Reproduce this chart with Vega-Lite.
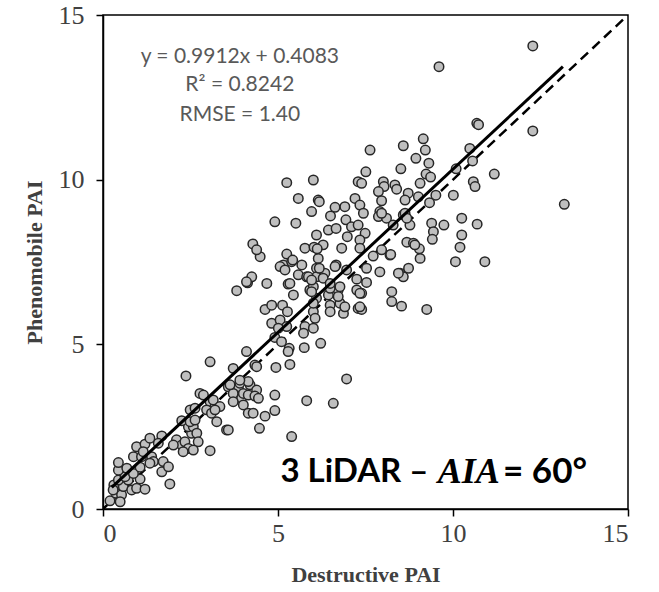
{
"$schema":"https://vega.github.io/schema/vega-lite/v6.json",
"width":525,"height":494,"autosize":"none",
"padding":{"left":103,"top":15,"right":31,"bottom":83},
"background":"white",
"config":{"view":{"stroke":"#000","strokeWidth":1.5},
"style":{"guide-label":{"font":"Liberation Serif","fontSize":26,"fill":"#404040"},"guide-title":{"font":"Liberation Serif","fontSize":22,"fontWeight":"bold","fill":"#404040"}},
"axis":{"grid":false,"domainColor":"#000","domainWidth":1.5,"tickColor":"#000","tickWidth":1.5,"tickSize":7,"labelFont":"Liberation Serif","labelFontSize":26,"labelColor":"#404040","titleFont":"Liberation Serif","titleFontSize":22,"titleFontWeight":"bold","titleColor":"#404040"},
"axisX":{"labelPadding":4,"titlePadding":18},
"axisY":{"labelPadding":12,"titlePadding":12}},
"datasets":{
"pts":[
{"d":0.2,"p":0.25},{"d":0.37,"p":0.48},{"d":0.53,"p":0.43},{"d":0.31,"p":0.73},{"d":0.58,"p":0.68},{"d":0.44,"p":0.88},{"d":0.72,"p":0.88},{"d":0.63,"p":0.98},{"d":0.82,"p":0.58},{"d":0.96,"p":0.63},{"d":1.2,"p":0.6},{"d":1.06,"p":0.91},{"d":0.87,"p":1.08},{"d":1.06,"p":1.27},{"d":0.44,"p":1.18},{"d":0.68,"p":1.24},{"d":0.44,"p":1.41},{"d":0.87,"p":1.59},{"d":1.1,"p":1.59},{"d":0.96,"p":1.89},{"d":1.2,"p":1.97},{"d":1.15,"p":1.74},{"d":1.39,"p":1.59},{"d":1.44,"p":1.44},{"d":1.34,"p":1.39},{"d":1.68,"p":2.22},{"d":1.58,"p":2.0},{"d":1.72,"p":1.44},{"d":1.68,"p":1.13},{"d":1.87,"p":1.28},{"d":1.91,"p":0.76},{"d":2.1,"p":2.1},{"d":2.25,"p":1.94},{"d":2.01,"p":1.94},{"d":2.34,"p":2.04},{"d":2.53,"p":2.3},{"d":2.44,"p":2.5},{"d":2.58,"p":2.5},{"d":2.25,"p":2.68},{"d":2.49,"p":2.65},{"d":2.63,"p":2.7},{"d":2.68,"p":2.3},{"d":2.72,"p":2.04},{"d":2.44,"p":1.84},{"d":2.29,"p":1.74},{"d":2.58,"p":1.79},{"d":3.06,"p":1.77},{"d":3.53,"p":2.4},{"d":2.49,"p":3.01},{"d":2.63,"p":3.06},{"d":2.77,"p":3.51},{"d":2.87,"p":3.46},{"d":3.06,"p":3.26},{"d":3.2,"p":3.11},{"d":3.25,"p":2.65},{"d":2.96,"p":3.01},{"d":3.15,"p":3.31},{"d":3.1,"p":2.91},{"d":3.34,"p":3.11},{"d":3.2,"p":3.01},{"d":0.29,"p":0.58},{"d":0.49,"p":0.22},{"d":1.34,"p":2.15},{"d":2.37,"p":4.04},
{"d":3.58,"p":3.71},{"d":3.87,"p":3.71},{"d":4.2,"p":3.77},{"d":4.39,"p":3.61},{"d":3.72,"p":3.51},{"d":3.96,"p":3.36},{"d":4.01,"p":3.51},{"d":4.15,"p":3.46},{"d":4.34,"p":3.43},{"d":3.63,"p":3.77},{"d":3.91,"p":3.82},{"d":3.72,"p":3.26},{"d":4.01,"p":3.16},{"d":4.15,"p":2.91},{"d":4.29,"p":2.91},{"d":4.15,"p":3.87},{"d":3.91,"p":3.91},{"d":4.44,"p":3.36},{"d":4.91,"p":3.46},{"d":5.82,"p":3.29},{"d":6.58,"p":3.21},{"d":4.91,"p":2.99},{"d":4.63,"p":2.82},{"d":4.47,"p":2.45},{"d":5.39,"p":2.2},{"d":3.58,"p":2.4},{"d":6.96,"p":3.95},{"d":3.06,"p":4.47},{"d":3.72,"p":4.27},{"d":4.34,"p":4.37},{"d":4.39,"p":4.32},{"d":4.94,"p":4.3},{"d":5.34,"p":4.39},{"d":4.1,"p":4.78},{"d":5.32,"p":4.88},{"d":5.29,"p":4.78},{"d":5.75,"p":4.9},{"d":6.22,"p":5.03},{"d":4.91,"p":5.21},{"d":5.1,"p":5.08},{"d":4.82,"p":5.64},{"d":5.06,"p":5.74},{"d":5.25,"p":5.54},{"d":5.01,"p":5.49},{"d":5.77,"p":5.54},{"d":5.73,"p":5.34},{"d":6.01,"p":5.49},{"d":4.63,"p":6.06},{"d":4.82,"p":6.19},{"d":5.13,"p":6.19},{"d":5.27,"p":5.99},{"d":3.82,"p":6.63},{"d":4.13,"p":6.87},{"d":4.68,"p":6.85},{"d":5.29,"p":6.83},{"d":5.44,"p":6.5},{"d":5.91,"p":6.65},{"d":6.1,"p":6.4},{"d":6.44,"p":6.5},{"d":6.72,"p":6.65},{"d":6.77,"p":6.75},{"d":6.49,"p":6.19},{"d":6.77,"p":6.25},{"d":6.87,"p":5.94},{"d":6.49,"p":5.99},{"d":7.25,"p":6.65},{"d":7.29,"p":6.09},{"d":6.01,"p":5.99},{"d":6.06,"p":5.79},{"d":7.39,"p":6.55},{"d":7.39,"p":6.06},{"d":8.25,"p":6.6},{"d":8.25,"p":6.3},{"d":8.53,"p":6.16},{"d":9.25,"p":6.06},{"d":7.91,"p":7.2},{"d":8.49,"p":7.16},{"d":8.58,"p":7.05},{"d":7.53,"p":6.88},{"d":7.25,"p":6.98},{"d":6.91,"p":6.14},
{"d":7.63,"p":10.9},{"d":7.51,"p":10.24},{"d":6.01,"p":9.99},{"d":5.25,"p":9.91},{"d":7.29,"p":9.94},{"d":7.39,"p":9.89},{"d":8.01,"p":9.94},{"d":8.03,"p":9.79},{"d":8.34,"p":9.84},{"d":8.39,"p":9.71},{"d":5.58,"p":9.43},{"d":6.15,"p":9.38},{"d":6.18,"p":9.33},{"d":7.2,"p":9.43},{"d":7.87,"p":9.64},{"d":7.96,"p":9.36},{"d":5.96,"p":9.03},{"d":6.63,"p":9.16},{"d":6.91,"p":9.18},{"d":7.34,"p":9.23},{"d":7.44,"p":8.98},{"d":7.91,"p":9.03},{"d":7.87,"p":8.88},{"d":6.5,"p":8.9},{"d":6.94,"p":8.78},{"d":4.91,"p":8.72},{"d":5.51,"p":8.68},{"d":8.1,"p":8.83},{"d":7.1,"p":8.57},{"d":6.44,"p":8.47},{"d":6.66,"p":8.52},{"d":7.29,"p":8.62},{"d":6.1,"p":8.32},{"d":6.98,"p":8.27},{"d":7.49,"p":8.37},{"d":7.34,"p":8.17},{"d":6.29,"p":8.02},{"d":5.77,"p":7.92},{"d":6.03,"p":7.95},{"d":6.82,"p":7.92},{"d":7.34,"p":7.92},{"d":7.96,"p":7.87},{"d":5.25,"p":7.74},{"d":6.15,"p":7.61},{"d":7.72,"p":7.68},{"d":8.2,"p":7.71},{"d":4.49,"p":7.66},{"d":5.15,"p":7.41},{"d":5.68,"p":7.41},{"d":5.39,"p":7.51},{"d":6.1,"p":7.31},{"d":6.66,"p":7.41},{"d":6.96,"p":7.26},{"d":7.53,"p":7.31},{"d":5.58,"p":7.11},{"d":5.82,"p":7.05},{"d":6.1,"p":7.05},{"d":6.34,"p":7.16},{"d":5.34,"p":6.85},{"d":6.01,"p":6.75},{"d":6.49,"p":6.7},{"d":7.34,"p":6.55},{"d":5.96,"p":6.6},{"d":6.72,"p":6.45},{"d":6.01,"p":6.25},{"d":7.34,"p":6.14},{"d":4.28,"p":8.05},{"d":4.39,"p":7.87},{"d":6.12,"p":7.9},{"d":5.06,"p":7.36},{"d":5.2,"p":7.26},{"d":5.42,"p":7.56},{"d":5.87,"p":7.05},{"d":5.96,"p":6.95},{"d":4.25,"p":7.05},{"d":4.1,"p":6.9},{"d":6.18,"p":7.31},{"d":6.29,"p":7.01},{"d":6.49,"p":6.85},{"d":6.63,"p":7.36},
{"d":12.28,"p":14.06},{"d":9.6,"p":13.43},{"d":10.68,"p":11.71},{"d":10.73,"p":11.67},{"d":12.28,"p":11.48},{"d":9.15,"p":11.24},{"d":8.58,"p":11.03},{"d":9.21,"p":10.9},{"d":8.94,"p":10.65},{"d":10.48,"p":10.95},{"d":9.31,"p":10.5},{"d":8.51,"p":10.33},{"d":10.09,"p":10.33},{"d":10.56,"p":10.57},{"d":9.23,"p":10.17},{"d":9.36,"p":10.08},{"d":11.18,"p":10.17},{"d":9.06,"p":9.89},{"d":10.58,"p":9.94},{"d":10.63,"p":9.79},{"d":8.72,"p":9.59},{"d":8.63,"p":9.38},{"d":9.01,"p":9.48},{"d":9.51,"p":9.53},{"d":10.01,"p":9.53},{"d":9.33,"p":9.3},{"d":13.18,"p":9.25},{"d":7.96,"p":8.98},{"d":8.58,"p":8.93},{"d":8.77,"p":8.62},{"d":8.29,"p":8.62},{"d":9.39,"p":8.68},{"d":9.74,"p":8.62},{"d":10.25,"p":8.83},{"d":10.69,"p":8.65},{"d":9.44,"p":8.42},{"d":9.41,"p":8.19},{"d":10.25,"p":8.32},{"d":10.2,"p":7.95},{"d":8.68,"p":8.1},{"d":8.87,"p":8.07},{"d":9.04,"p":7.9},{"d":9.06,"p":7.61},{"d":8.22,"p":7.73},{"d":10.07,"p":7.51},{"d":10.91,"p":7.51},{"d":8.73,"p":7.31},{"d":8.44,"p":7.16},{"d":8.63,"p":8.98},{"d":8.68,"p":8.83},{"d":8.91,"p":8.02}
],
"fit":[{"d":0.25,"p":0.656},{"d":13.14,"p":13.433}],
"one":[{"d":0,"p":0},{"d":15,"p":15}],
"eq":[{"d":3.91,"p":13.73,"t":"y = 0.9912x + 0.4083"},{"d":3.91,"p":12.88,"t":"R² = 0.8242"},{"d":3.91,"p":11.96,"t":"RMSE = 1.40"}],
"lab1":[{"d":9.3,"p":1.12,"t":"3 LiDAR –"}],
"lab2":[{"d":10.45,"p":1.12,"t":"AIA"}],
"lab3":[{"d":11.43,"p":1.12,"t":"= 60°"}]
},
"encoding":{
"x":{"field":"d","type":"quantitative","scale":{"domain":[0,15],"nice":false},"axis":{"values":[0,5,10,15],"title":"Destructive PAI","labelFont":"Liberation Serif","labelFontSize":26,"labelColor":"#404040"}},
"y":{"field":"p","type":"quantitative","scale":{"domain":[0,15],"nice":false},"axis":{"values":[0,5,10,15],"title":"Phenomobile PAI","labelFont":"Liberation Serif","labelFontSize":26,"labelColor":"#404040"}}
},
"layer":[
{"data":{"name":"one"},"mark":{"type":"line","color":"#000","strokeWidth":2.5,"strokeDash":[10,6],"clip":true}},
{"data":{"name":"pts"},"mark":{"type":"point","shape":"circle","filled":true,"fill":"#bfbfbf","stroke":"#262626","strokeWidth":1.5,"size":90,"opacity":1}},
{"data":{"name":"fit"},"mark":{"type":"line","color":"#000","strokeWidth":3}},
{"data":{"name":"eq"},"mark":{"type":"text","font":"Lato","fontSize":21,"color":"#595959","align":"center","baseline":"middle"},
"encoding":{"text":{"field":"t"}}},
{"data":{"name":"lab1"},"mark":{"type":"text","font":"Lato","fontSize":33,"fontWeight":"bold","color":"#000","align":"right","baseline":"middle"},
"encoding":{"text":{"field":"t"}}},
{"data":{"name":"lab2"},"mark":{"type":"text","font":"Liberation Serif","fontSize":36,"fontStyle":"italic","fontWeight":"bold","color":"#000","align":"center","baseline":"middle"},
"encoding":{"text":{"field":"t"}}},
{"data":{"name":"lab3"},"mark":{"type":"text","font":"Lato","fontSize":35,"fontWeight":"bold","color":"#000","align":"left","baseline":"middle"},
"encoding":{"text":{"field":"t"}}}
]
}
